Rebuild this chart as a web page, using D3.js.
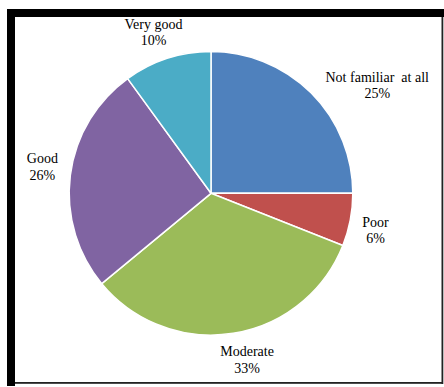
<!DOCTYPE html>
<html>
<head>
<meta charset="utf-8">
<script src="https://cdn.jsdelivr.net/npm/d3@7"></script>
<style>
  html, body { margin: 0; padding: 0; background: #fff; }
  svg { display: block; }
  text { font-family: "Liberation Serif", "Times New Roman", serif; font-size: 14px; fill: #000; white-space: pre; }
</style>
</head>
<body>
<svg id="chart" width="444" height="387"></svg>
<script>
// Survey answers, clockwise from 12 o'clock
const categories = ["Not familiar  at all", "Poor", "Moderate", "Good", "Very good"];
const shares = [25, 6, 33, 26, 10];
const colors = ["#4F81BD", "#C0504D", "#9BBB59", "#8064A2", "#4BACC6"];

// Label offsets (px) from the default outside-label position
const labelNudge = [[46, 12], [-2.5, 5], [9.5, -1.5], [0, -5], [-5, 1]];

const svg = d3.select("#chart");
const W = 444, H = 387;

// Frame: heavy top/left bands, thin right/bottom rules
svg.append("rect").attr("x", 7).attr("y", 9).attr("width", W - 7).attr("height", 8).attr("fill", "#000");
svg.append("rect").attr("x", 7).attr("y", 9).attr("width", 8).attr("height", 377).attr("fill", "#000");
svg.append("rect").attr("x", 441.5).attr("y", 17).attr("width", 1.8).attr("height", 367).attr("fill", "#222");
svg.append("rect").attr("x", 15).attr("y", 382).attr("width", 428).attr("height", 1.8).attr("fill", "#222");

const cx = 211, cy = 193.3, r = 141.8;
const g = svg.append("g").attr("transform", `translate(${cx},${cy})`);

const pie = d3.pie().sort(null).value(d => d);
const arcs = pie(shares);
const arc = d3.arc().innerRadius(0).outerRadius(r);

g.selectAll("path.slice")
  .data(arcs)
  .join("path")
  .attr("class", "slice")
  .attr("d", arc)
  .attr("fill", (d, i) => colors[i])
  .attr("stroke", "#fff")
  .attr("stroke-width", 1.5)
  .attr("stroke-linejoin", "round");

// Data labels: category on the first line, percentage below
const labelR = 170;
const labels = g.selectAll("text.lbl")
  .data(arcs)
  .join("text")
  .attr("class", "lbl")
  .attr("text-anchor", "middle")
  .attr("transform", (d, i) => {
    const a = (d.startAngle + d.endAngle) / 2;
    const x = labelR * Math.sin(a) + labelNudge[i][0];
    const y = -labelR * Math.cos(a) + labelNudge[i][1];
    return `translate(${x},${y})`;
  });

labels.append("tspan")
  .attr("x", 0).attr("y", -3.5)
  .text((d, i) => categories[i]);
labels.append("tspan")
  .attr("x", 0).attr("y", 12.8)
  .text((d, i) => shares[i] + "%");
</script>
</body>
</html>
